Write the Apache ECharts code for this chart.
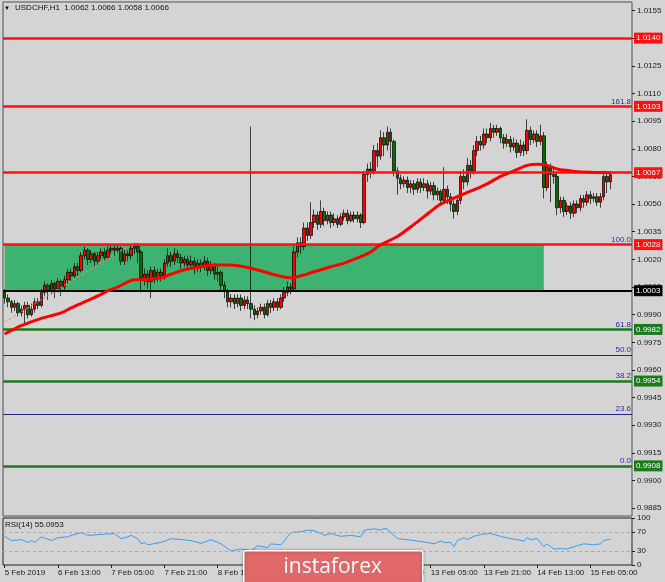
<!DOCTYPE html>
<html><head><meta charset="utf-8">
<script src="https://cdn.jsdelivr.net/npm/echarts@6/dist/echarts.min.js"></script>
<style>html,body{margin:0;padding:0;background:#d4d4d4}#c{width:665px;height:582px}</style>
</head><body><div id="c"></div><script>
// ---- data ----
const symbolTitle = 'USDCHF,H1  1.0062 1.0066 1.0058 1.0066';
const rsiTitle = 'RSI(14) 55.0953';
const barCount = 189; // hourly slots incl. right shift
const labelStep = 16;
const timeLabels = ['5 Feb 2019','6 Feb 13:00','7 Feb 05:00','7 Feb 21:00','8 Feb 13:00','11 Feb 05:00','11 Feb 21:00','12 Feb 13:00','13 Feb 05:00','13 Feb 21:00','14 Feb 13:00','15 Feb 05:00'];
const priceTicks = [1.0155,1.0140,1.0125,1.0110,1.0095,1.0080,1.0065,1.0050,1.0035,1.0020,1.0005,0.9990,0.9975,0.9960,0.9945,0.9930,0.9915,0.9900,0.9885];
const rsiTicks = [0,30,70,100];
const rsiLevels = [30,70];
// [open, close, low, high]
const ohlc = [
[1.0002,0.9999,0.9996,1.0004],[0.9999,0.9997,0.9994,1.0001],[0.9997,0.9994,0.9991,0.9998],[0.9994,0.9996,0.9992,0.9998],
[0.9996,0.9991,0.9989,0.9997],[0.9991,0.9993,0.9989,0.9995],[0.9993,0.9995,0.9985,0.9997],[0.9995,0.9990,0.9988,0.9997],
[0.9990,0.9993,0.9989,0.9996],[0.9993,0.9997,0.9991,0.9999],[0.9997,0.9995,0.9993,0.9999],[0.9995,1.0002,0.9994,1.0004],
[1.0002,1.0006,1.0000,1.0008],[1.0006,1.0003,0.9998,1.0007],[1.0003,1.0007,1.0001,1.0009],[1.0007,1.0004,0.9999,1.0008],
[1.0004,1.0008,1.0002,1.0010],[1.0008,1.0005,1.0000,1.0009],[1.0005,1.0009,1.0003,1.0011],[1.0009,1.0013,1.0007,1.0015],
[1.0013,1.0011,1.0008,1.0015],[1.0011,1.0016,1.0010,1.0018],[1.0016,1.0014,1.0011,1.0018],[1.0014,1.0022,1.0013,1.0024],
[1.0022,1.0025,1.0020,1.0027],[1.0025,1.0020,1.0017,1.0026],[1.0020,1.0023,1.0018,1.0025],[1.0023,1.0019,1.0016,1.0024],
[1.0019,1.0022,1.0017,1.0024],[1.0022,1.0024,1.0020,1.0026],[1.0024,1.0021,1.0019,1.0026],[1.0021,1.0025,1.0020,1.0027],
[1.0025,1.0026,1.0023,1.0028],[1.0026,1.0025,1.0022,1.0028],[1.0025,1.0026,1.0023,1.0028],[1.0026,1.0019,1.0017,1.0027],
[1.0019,1.0023,1.0017,1.0025],[1.0023,1.0022,1.0019,1.0025],[1.0022,1.0026,1.0020,1.0028],[1.0026,1.0027,1.0023,1.0029],
[1.0027,1.0024,1.0018,1.0029],[1.0024,1.0010,1.0002,1.0025],[1.0010,1.0012,1.0006,1.0015],[1.0012,1.0008,1.0004,1.0014],
[1.0008,1.0014,0.9999,1.0016],[1.0014,1.0010,1.0007,1.0016],[1.0010,1.0013,1.0008,1.0015],[1.0013,1.0011,1.0008,1.0015],
[1.0011,1.0018,1.0009,1.0020],[1.0018,1.0022,1.0016,1.0026],[1.0022,1.0019,1.0016,1.0024],[1.0019,1.0023,1.0017,1.0026],
[1.0023,1.0021,1.0018,1.0025],[1.0021,1.0018,1.0015,1.0023],[1.0018,1.0020,1.0016,1.0022],[1.0020,1.0017,1.0014,1.0022],
[1.0017,1.0019,1.0015,1.0022],[1.0019,1.0015,1.0012,1.0021],[1.0015,1.0018,1.0013,1.0020],[1.0018,1.0016,1.0013,1.0020],
[1.0016,1.0019,1.0014,1.0022],[1.0019,1.0014,1.0011,1.0021],[1.0014,1.0017,1.0012,1.0019],[1.0017,1.0012,1.0009,1.0018],
[1.0012,1.0013,1.0008,1.0016],[1.0013,1.0006,1.0003,1.0014],[1.0006,1.0003,0.9999,1.0008],[1.0003,0.9997,0.9994,1.0004],
[0.9997,0.9999,0.9994,1.0001],[0.9999,0.9996,0.9993,1.0001],[0.9996,0.9999,0.9994,1.0001],[0.9999,0.9995,0.9992,1.0001],
[0.9995,0.9998,0.9993,1.0000],[0.9998,0.9996,0.9993,1.0000],[0.9996,0.9993,0.9988,1.0092],[0.9993,0.9990,0.9987,0.9995],
[0.9990,0.9992,0.9988,0.9994],[0.9992,0.9994,0.9990,0.9996],[0.9994,0.9990,0.9988,0.9996],[0.9990,0.9996,0.9989,0.9998],
[0.9996,0.9994,0.9991,0.9998],[0.9994,0.9997,0.9992,0.9999],[0.9997,0.9994,0.9992,0.9999],[0.9994,0.9999,0.9993,1.0001],
[0.9999,1.0002,0.9997,1.0005],[1.0002,1.0005,1.0000,1.0008],[1.0005,1.0004,1.0001,1.0007],[1.0004,1.0024,1.0003,1.0027],
[1.0024,1.0029,1.0021,1.0032],[1.0029,1.0027,1.0023,1.0032],[1.0027,1.0037,1.0025,1.0040],[1.0037,1.0033,1.0030,1.0040],
[1.0033,1.0040,1.0031,1.0051],[1.0040,1.0044,1.0037,1.0047],[1.0044,1.0039,1.0036,1.0046],[1.0039,1.0046,1.0037,1.0052],
[1.0046,1.0041,1.0038,1.0048],[1.0041,1.0044,1.0039,1.0046],[1.0044,1.0040,1.0037,1.0046],[1.0040,1.0042,1.0038,1.0045],
[1.0042,1.0039,1.0037,1.0044],[1.0039,1.0043,1.0038,1.0045],[1.0043,1.0045,1.0041,1.0047],[1.0045,1.0041,1.0039,1.0047],
[1.0041,1.0044,1.0040,1.0046],[1.0044,1.0042,1.0040,1.0046],[1.0042,1.0044,1.0040,1.0046],[1.0044,1.0040,1.0037,1.0045],
[1.0040,1.0066,1.0039,1.0068],[1.0066,1.0069,1.0062,1.0072],[1.0069,1.0068,1.0064,1.0073],[1.0068,1.0079,1.0066,1.0082],
[1.0079,1.0076,1.0070,1.0083],[1.0076,1.0086,1.0074,1.0090],[1.0086,1.0082,1.0076,1.0089],[1.0082,1.0089,1.0079,1.0092],
[1.0089,1.0084,1.0075,1.0091],[1.0084,1.0068,1.0065,1.0085],[1.0068,1.0064,1.0055,1.0070],[1.0064,1.0061,1.0058,1.0066],
[1.0061,1.0063,1.0059,1.0065],[1.0063,1.0059,1.0056,1.0065],[1.0059,1.0061,1.0056,1.0063],[1.0061,1.0058,1.0055,1.0063],
[1.0058,1.0062,1.0056,1.0064],[1.0062,1.0059,1.0056,1.0064],[1.0059,1.0061,1.0057,1.0064],[1.0061,1.0057,1.0053,1.0063],
[1.0057,1.0060,1.0055,1.0062],[1.0060,1.0055,1.0052,1.0062],[1.0055,1.0057,1.0052,1.0059],[1.0057,1.0052,1.0049,1.0058],
[1.0052,1.0058,1.0050,1.0070],[1.0058,1.0054,1.0050,1.0060],[1.0054,1.0050,1.0046,1.0056],[1.0050,1.0046,1.0042,1.0052],
[1.0046,1.0052,1.0044,1.0055],[1.0052,1.0065,1.0050,1.0068],[1.0065,1.0062,1.0058,1.0069],[1.0062,1.0071,1.0060,1.0075],
[1.0071,1.0068,1.0064,1.0074],[1.0068,1.0079,1.0066,1.0082],[1.0079,1.0084,1.0076,1.0087],[1.0084,1.0082,1.0079,1.0087],
[1.0082,1.0088,1.0080,1.0091],[1.0088,1.0086,1.0083,1.0091],[1.0086,1.0091,1.0084,1.0094],[1.0091,1.0089,1.0086,1.0093],
[1.0089,1.0091,1.0087,1.0093],[1.0091,1.0086,1.0083,1.0092],[1.0086,1.0083,1.0080,1.0088],[1.0083,1.0085,1.0081,1.0088],
[1.0085,1.0081,1.0078,1.0087],[1.0081,1.0083,1.0079,1.0086],[1.0083,1.0078,1.0075,1.0085],[1.0078,1.0082,1.0076,1.0085],
[1.0082,1.0079,1.0076,1.0084],[1.0079,1.0090,1.0077,1.0096],[1.0090,1.0085,1.0082,1.0092],[1.0085,1.0088,1.0083,1.0090],
[1.0088,1.0084,1.0081,1.0090],[1.0084,1.0087,1.0082,1.0093],[1.0087,1.0059,1.0053,1.0089],[1.0059,1.0070,1.0057,1.0073],
[1.0070,1.0066,1.0051,1.0072],[1.0066,1.0065,1.0061,1.0069],[1.0065,1.0048,1.0044,1.0067],[1.0048,1.0052,1.0045,1.0054],
[1.0052,1.0046,1.0043,1.0054],[1.0046,1.0049,1.0044,1.0051],[1.0049,1.0045,1.0042,1.0051],[1.0045,1.0050,1.0043,1.0052],
[1.0050,1.0048,1.0045,1.0052],[1.0048,1.0053,1.0046,1.0055],[1.0053,1.0051,1.0048,1.0055],[1.0051,1.0055,1.0049,1.0057],
[1.0055,1.0053,1.0050,1.0057],[1.0053,1.0054,1.0051,1.0056],[1.0054,1.0051,1.0049,1.0056],[1.0051,1.0054,1.0048,1.0056],
[1.0054,1.0065,1.0052,1.0068],[1.0065,1.0062,1.0056,1.0068],[1.0062,1.0066,1.0058,1.0066]
];
// moving average, read at sample bars [barIndex, value]
const maPoints = [[0,0.99795],[5,0.9984],[11,0.9988],[17,0.9991],[20,0.99937],[24,0.9997],[29,1.0001],[31,1.0003],[34,1.0005],[37,1.00078],[39,1.00089],[42,1.0009],[47,1.0010],[50,1.0012],[54,1.00144],[59,1.0016],[63,1.0017],[68,1.0017],[72,1.0016],[77,1.00138],[81,1.00117],[86,1.0010],[89,1.00111],[93,1.00133],[98,1.0016],[102,1.0018],[107,1.00215],[110,1.0024],[113,1.0028],[118,1.00324],[123,1.0039],[128,1.0046],[131,1.0050],[136,1.0054],[140,1.0057],[145,1.0061],[149,1.0065],[153,1.0068],[157,1.0071],[160,1.00716],[163,1.0071],[166,1.0069],[170,1.0068],[176,1.00672],[182,1.0067]];
const rsiPoints = [[0,61],[2,52],[5,54],[7,48],[8,52],[9,48],[11,60],[14,52],[16,58],[19,60],[20,63],[23,69],[25,63],[29,65],[33,67],[35,56],[37,60],[38,63],[40,56],[41,45],[42,48],[43,43],[47,48],[50,56],[56,52],[59,46],[62,54],[65,45],[68,30],[71,34],[73,32],[74,30],[76,41],[79,37],[80,45],[83,43],[85,60],[86,69],[89,71],[91,74],[93,73],[95,67],[96,63],[98,67],[101,61],[104,63],[107,60],[108,74],[111,77],[113,74],[114,78],[115,76],[117,63],[118,56],[121,54],[124,51],[127,48],[129,45],[131,51],[132,48],[134,48],[135,39],[136,52],[138,58],[139,54],[141,61],[143,65],[146,67],[149,61],[152,56],[154,54],[156,51],[157,58],[158,54],[160,56],[162,39],[163,45],[165,34],[167,35],[169,34],[172,41],[174,45],[177,43],[179,45],[180,52],[182,55.1]];
const trendPoints = [[0,0.9986],[37,1.0027]];
const redLevels = [1.0140,1.0103,1.0067,1.0028];
const blackLevels = [1.0003];
const greenLevels = [0.9982,0.9954,0.9908];
const fibLevels = [1.0103,1.0028,0.9982,0.9968,0.9954,0.9936,0.9908];
const fibNames = ['161.8','100.0','61.8','50.0','38.2','23.6','0.0'];
const zone = {fromBar:0,toBar:162,top:1.0028,bottom:1.0003};

// ---- chart ----
const F = '"Liberation Sans", Arial, sans-serif';
const cats = Array.from({length:barCount},(_,i)=>String(i));
const chart = echarts.init(document.getElementById('c'),null,{renderer:'canvas'});
function boxLine(v,col,w){
  return {yAxis:v,lineStyle:{color:col,width:w,type:'solid'},
    label:{show:true,position:'end',distance:2,formatter:()=>v.toFixed(4),color:'#fff',backgroundColor:col,
      padding:[2,2,1,2],fontSize:8,fontFamily:F}};
}
const levelData = [].concat(
  redLevels.map(v=>boxLine(v,'#ff1010',2.5)),
  blackLevels.map(v=>boxLine(v,'#000000',2)),
  greenLevels.map(v=>boxLine(v,'#1b7a1b',2.5))
);
const fibData = fibLevels.map((v,i)=>({yAxis:v,
  label:{show:true,position:'insideEndTop',distance:1,formatter:fibNames[i],color:'#2a2aaa',fontSize:8,fontFamily:F}}));

chart.setOption({
  animation:false,
  backgroundColor:'#d4d4d4',
  grid:[
    {left:3,right:33,top:2,height:514,show:true,borderColor:'#505050',borderWidth:1},
    {left:3,right:33,top:518,height:47,show:true,borderColor:'#202020',borderWidth:1}
  ],
  xAxis:[
    {type:'category',gridIndex:0,data:cats,boundaryGap:true,axisLine:{show:false},axisTick:{show:false},axisLabel:{show:false},splitLine:{show:false}},
    {type:'category',gridIndex:1,data:cats,boundaryGap:true,axisLine:{show:false},
      axisTick:{show:true,alignWithLabel:true,interval:(i)=>i%labelStep===0,length:3,lineStyle:{color:'#202020'}},
      axisLabel:{interval:(i)=>i%labelStep===0,formatter:(v,i)=>timeLabels[i/labelStep]||'',align:'left',margin:4,fontSize:8,color:'#202020',fontFamily:F},
      splitLine:{show:false}}
  ],
  yAxis:[
    {type:'value',gridIndex:0,position:'right',min:0.98808,max:1.01596,axisLine:{show:false},
      axisTick:{show:true,customValues:priceTicks,length:3,lineStyle:{color:'#202020'}},
      axisLabel:{customValues:priceTicks,formatter:v=>v.toFixed(4),margin:5,fontSize:8,color:'#202020',fontFamily:F},
      splitLine:{show:false}},
    {type:'value',gridIndex:1,position:'right',min:0,max:100,axisLine:{show:false},
      axisTick:{show:true,customValues:rsiTicks,length:3,lineStyle:{color:'#202020'}},
      axisLabel:{customValues:rsiTicks,margin:5,fontSize:8,color:'#202020',fontFamily:F},
      splitLine:{show:false}}
  ],
  series:[
    {type:'line',xAxisIndex:0,yAxisIndex:0,data:[],z:1,silent:true,
      markArea:{silent:true,itemStyle:{color:'#3cb371',opacity:1},
        data:[[{xAxis:zone.fromBar,yAxis:zone.top},{xAxis:zone.toBar,yAxis:zone.bottom}]]}},
    {type:'candlestick',xAxisIndex:0,yAxisIndex:0,data:ohlc,z:3,barWidth:3,silent:true,
      itemStyle:{color:'#ff0000',color0:'#0a6a0a',borderColor:'#000',borderColor0:'#000',borderWidth:0.7}},
    {type:'line',xAxisIndex:0,yAxisIndex:0,data:trendPoints,z:4,showSymbol:false,silent:true,
      lineStyle:{color:'#f08a8a',width:1,type:[3,2]}},
    {type:'line',xAxisIndex:0,yAxisIndex:0,data:[],z:4,silent:true,
      markLine:{silent:true,precision:6,symbol:['none','none'],lineStyle:{color:'#22228c',width:1,type:'solid'},data:fibData}},
    {type:'line',xAxisIndex:0,yAxisIndex:0,data:[],z:5,silent:true,
      markLine:{silent:true,precision:6,symbol:['none','none'],data:levelData}},
    {type:'line',xAxisIndex:0,yAxisIndex:0,data:maPoints,z:6,showSymbol:false,smooth:0.3,silent:true,
      lineStyle:{color:'#ff0000',width:3}},
    {type:'line',xAxisIndex:1,yAxisIndex:1,data:rsiPoints,z:4,showSymbol:false,silent:true,
      lineStyle:{color:'#3d9cf0',width:1},
      markLine:{silent:true,symbol:['none','none'],label:{show:false},
        lineStyle:{color:'#a8a8a8',width:1,type:[3,3]},data:rsiLevels.map(v=>({yAxis:v}))}}
  ],
  graphic:[
    {type:'text',left:4,top:5,z:100,style:{text:'▼',fontSize:6,fill:'#000',fontFamily:F}},
    {type:'text',left:15,top:4,z:100,style:{text:symbolTitle,fontSize:8,fill:'#101010',fontFamily:F}},
    {type:'text',left:5,top:521,z:100,style:{text:rsiTitle,fontSize:8,fill:'#101010',fontFamily:F}},
    {type:'group',left:243,top:550,z:100,children:[
      {type:'rect',z:100,shape:{x:0,y:0,width:179,height:34,r:2},style:{fill:'#e06868',stroke:'#ffffff',lineWidth:1.5,shadowBlur:3,shadowColor:'rgba(0,0,0,0.3)'}},
      {type:'text',z:101,style:{x:89,y:16,text:'instaforex',fill:'#fff',fontSize:21,fontFamily:'"Open Sans", "Liberation Sans", sans-serif',align:'center',verticalAlign:'middle'}}
    ]}
  ]
});
</script></body></html>
